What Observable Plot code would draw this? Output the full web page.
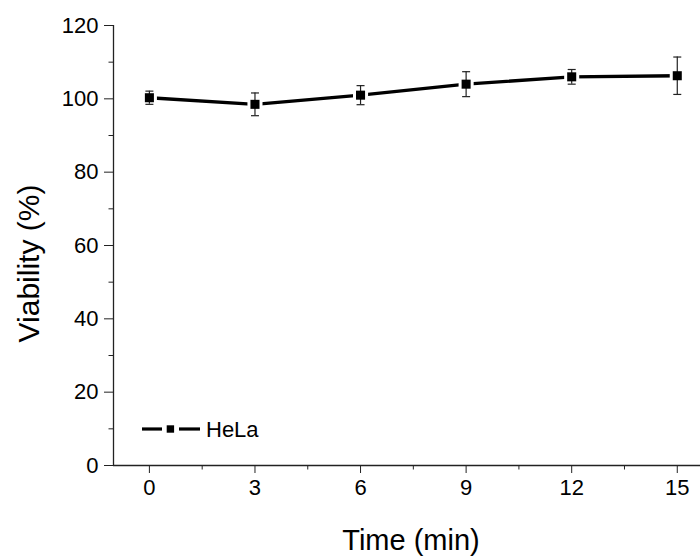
<!DOCTYPE html>
<html><head><meta charset="utf-8">
<script src="https://cdn.jsdelivr.net/npm/d3@7"></script>
<script src="https://cdn.jsdelivr.net/npm/@observablehq/plot@0.6"></script>
<style>body{margin:0;background:#fff;} #chart svg{display:block;}</style>
</head><body><div id="chart"></div>
<script>
const times = [0, 3, 6, 9, 12, 15];
const viability = [100.3, 98.5, 101.0, 104.0, 106.0, 106.3];
const errors = [1.8, 3.1, 2.6, 3.4, 2.0, 5.1];
const xTicks = [0, 3, 6, 9, 12, 15];
const xMinorTicks = [1.5, 4.5, 7.5, 10.5, 13.5];
const yTicks = [0, 20, 40, 60, 80, 100, 120];
const yMinorTicks = [10, 30, 50, 70, 90, 110];
const seriesName = "HeLa";
const xTitle = "Time (min)";
const yTitle = "Viability (%)";
const xDomain = [-1.02, 15.66];
const yDomain = [0, 120];

const data = times.map((t, i) => ({t, v: viability[i], lo: viability[i] - errors[i], hi: viability[i] + errors[i]}));

const capSymbol = {draw(ctx, size) { ctx.moveTo(-4, 0); ctx.lineTo(4, 0); }};
const FONT = "Arial, 'Liberation Sans', sans-serif";

function legendMark(index, scales, values, dims) {
  const x0 = dims.marginLeft;
  const y0 = dims.height - dims.marginBottom - 36;
  const g = d3.create("svg:g");
  g.append("line").attr("x1", x0 + 29).attr("x2", x0 + 49).attr("y1", y0).attr("y2", y0)
    .attr("stroke", "black").attr("stroke-width", 3.2);
  g.append("line").attr("x1", x0 + 66).attr("x2", x0 + 87).attr("y1", y0).attr("y2", y0)
    .attr("stroke", "black").attr("stroke-width", 3.2);
  g.append("rect").attr("x", x0 + 53.7).attr("y", y0 - 3.7).attr("width", 7.4).attr("height", 7.4)
    .attr("fill", "black");
  g.append("text").attr("x", x0 + 93).attr("y", y0).attr("dy", "0.36em")
    .attr("text-anchor", "start")
    .attr("font-size", 22).attr("font-family", FONT).attr("fill", "black").text(seriesName);
  return g.node();
}

const chart = Plot.plot({
  width: 700,
  height: 556,
  marginLeft: 113,
  marginRight: 0,
  marginTop: 25,
  marginBottom: 91,
  style: {fontFamily: FONT, background: "white", color: "black"},
  x: {domain: xDomain},
  y: {domain: yDomain},
  marks: [
    Plot.axisY({ticks: yTicks, tickSize: 9, tickPadding: 6, fontSize: 22, label: null, stroke: "#222"}),
    Plot.axisY({ticks: yMinorTicks, tickSize: 4.5, tickFormat: () => "", label: null, stroke: "#222"}),
    Plot.axisX({ticks: xTicks, tickSize: 8, tickPadding: 6, fontSize: 22, label: null, stroke: "#222"}),
    Plot.axisX({ticks: xMinorTicks, tickSize: 4.5, tickFormat: () => "", label: null, stroke: "#222"}),
    Plot.ruleX([xDomain[0]], {stroke: "#222", strokeWidth: 1.3}),
    Plot.ruleY([yDomain[0]], {stroke: "#222", strokeWidth: 1.3}),
    Plot.text([xTitle], {frameAnchor: "bottom", dx: 4, dy: 75, textAnchor: "middle", lineAnchor: "middle", fontSize: 29}),
    Plot.text([yTitle], {frameAnchor: "left", dx: -84, dy: 18, rotate: -90, textAnchor: "middle", lineAnchor: "middle", fontSize: 30}),
    Plot.line(data, {x: "t", y: "v", stroke: "black", strokeWidth: 3.4}),
    Plot.dot(data, {x: "t", y: "v", symbol: "square", r: 8.5, fill: "white"}),
    Plot.ruleX(data, {x: "t", y1: "lo", y2: "hi", stroke: "#222", strokeWidth: 1.2}),
    Plot.dot(data, {x: "t", y: "lo", symbol: capSymbol, fill: "none", stroke: "#222", strokeWidth: 1.2}),
    Plot.dot(data, {x: "t", y: "hi", symbol: capSymbol, fill: "none", stroke: "#222", strokeWidth: 1.2}),
    Plot.dot(data, {x: "t", y: "v", symbol: "square", r: 5.1, fill: "black"}),
    legendMark
  ]
});
document.getElementById("chart").appendChild(chart);
</script>
</body></html>
